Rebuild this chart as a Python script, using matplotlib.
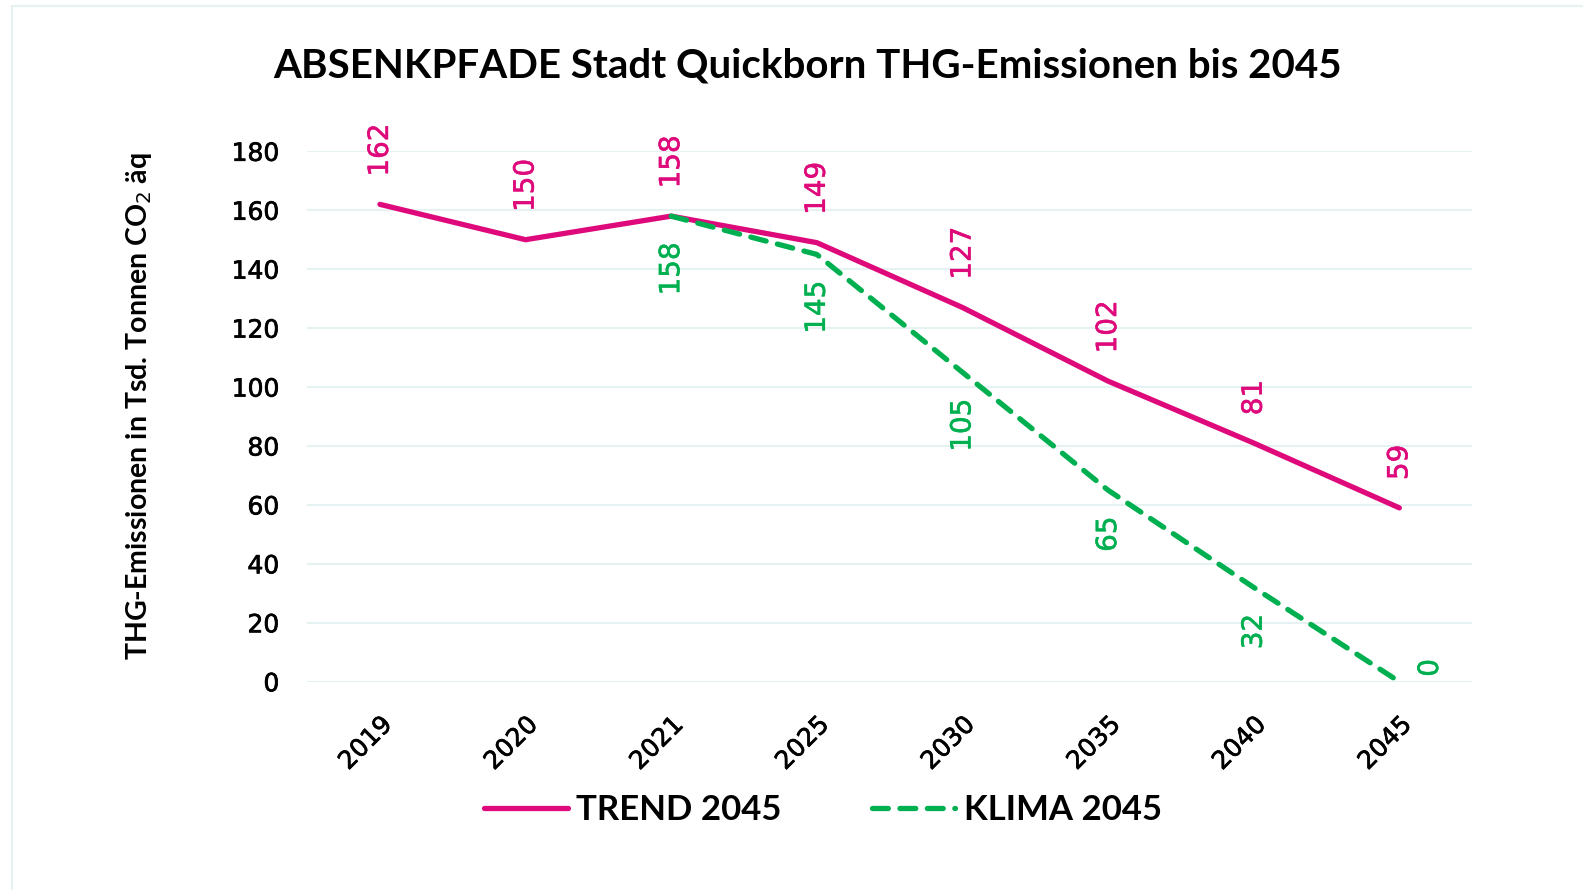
import matplotlib
matplotlib.use("Agg")
import matplotlib.pyplot as plt
import matplotlib.patheffects as pe
import numpy as np
from matplotlib.patches import Rectangle

years = ["2019", "2020", "2021", "2025", "2030", "2035", "2040", "2045"]
trend = [162, 150, 158, 149, 127, 102, 81, 59]
klima = [np.nan, np.nan, 158, 145, 105, 65, 32, 0]
yticks = [0, 20, 40, 60, 80, 100, 120, 140, 160, 180]

MAGENTA = "#DE0A7B"
GREEN = "#00B050"
GRID = "#E6F2F2"
TEXTFONT = ["Lato", "DejaVu Sans"]
NUMFONT = ["DejaVu Sans"]

plt.rcParams["font.family"] = TEXTFONT

fig = plt.figure(figsize=(15.83, 8.90), dpi=100)
ax = fig.add_axes([0.194, 0.234, 0.736, 0.596])

# outer light frame
fig.patches.append(Rectangle((12 / 1583, -0.05), 1.2, (1 - 6 / 890) + 0.05,
                             transform=fig.transFigure, fill=False,
                             edgecolor=GRID, linewidth=1.6))

x = np.arange(len(years))
ax.plot(x, trend, color=MAGENTA, linewidth=3.8, solid_capstyle="round",
        label="TREND 2045", zorder=3)
ax.plot(x, klima, color=GREEN, linewidth=3.8, dashes=(3.0, 2.2),
        dash_capstyle="round", label="KLIMA 2045", zorder=4)

ax.set_xlim(-0.5, len(years) - 0.5)
ax.set_ylim(0, 180)
ax.set_yticks(yticks)
ax.set_xticks(x)
ax.set_xticklabels(years, rotation=45, ha="right", rotation_mode="anchor")
ax.tick_params(axis="both", length=0, labelsize=18, colors="black")
ax.tick_params(axis="y", pad=20)
ax.tick_params(axis="x", pad=22)
for lab in ax.get_xticklabels() + ax.get_yticklabels():
    lab.set_fontfamily(NUMFONT)
    lab.set_path_effects([pe.withStroke(linewidth=0.5, foreground="black")])
for s in ax.spines.values():
    s.set_visible(False)
ax.grid(axis="y", color=GRID, linewidth=1.5)
ax.set_axisbelow(True)

ax.set_ylabel("THG-Emissionen in Tsd. Tonnen CO$_2$ äq", fontsize=20.5,
              fontweight="bold", va="center")
ax.yaxis.set_label_coords(-0.144, 0.52)

# data labels
for xi, v in zip(x, trend):
    ax.annotate(f"{v}", (xi, v), xytext=(0, 20), textcoords="offset points",
                rotation=90, ha="center", va="bottom", color=MAGENTA,
                fontsize=20, family=NUMFONT,
                path_effects=[pe.withStroke(linewidth=0.4, foreground=MAGENTA)])
for xi, v in zip(x, klima):
    if np.isnan(v):
        continue
    eff = [pe.withStroke(linewidth=0.4, foreground=GREEN)]
    if v == 0:
        ax.annotate(f"{v:.0f}", (xi, v), xytext=(22, 10), textcoords="offset points",
                    rotation=90, ha="center", va="center", color=GREEN,
                    fontsize=20, family=NUMFONT, path_effects=eff)
    else:
        ax.annotate(f"{v:.0f}", (xi, v), xytext=(0, -19), textcoords="offset points",
                    rotation=90, ha="center", va="top", color=GREEN,
                    fontsize=20, family=NUMFONT, path_effects=eff)

fig.text(0.51, 0.926, "ABSENKPFADE Stadt Quickborn THG-Emissionen bis 2045",
         ha="center", va="center", fontsize=29, fontweight="bold")

leg = fig.legend(loc="center", bbox_to_anchor=(0.52, 0.09), ncol=2, frameon=False,
                 handlelength=2.4, columnspacing=2.6, handletextpad=0.25,
                 prop={"size": 25, "weight": "bold", "family": TEXTFONT})

fig.savefig("out.png", dpi=100)
